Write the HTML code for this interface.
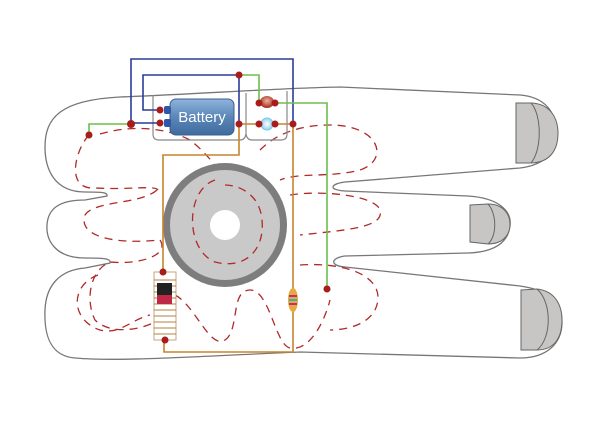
<!DOCTYPE html>
<html><head><style>body{margin:0;background:#fff}svg{display:block}</style></head><body>
<svg width="600" height="425" viewBox="0 0 600 425" xmlns="http://www.w3.org/2000/svg">
<defs>
<linearGradient id="bat" x1="0" y1="0" x2="0" y2="1"><stop offset="0" stop-color="#8fb4dc"/><stop offset="0.5" stop-color="#5a86b8"/><stop offset="1" stop-color="#3f6b9e"/></linearGradient>
<radialGradient id="red" cx="0.5" cy="0.4" r="0.6"><stop offset="0" stop-color="#f0b0a0"/><stop offset="1" stop-color="#a02818"/></radialGradient>
<radialGradient id="blu" cx="0.5" cy="0.5" r="0.6"><stop offset="0" stop-color="#ffffff"/><stop offset="1" stop-color="#7cc6ea"/></radialGradient>
</defs>
<!-- hand outline -->
<path d="M120,97 C200,94 280,88 340,87 L520,95 C545,97 556,112 556,132 C556,152 545,165 520,168 L345,182 C330,184 328,190 345,191 L468,196 C500,198 512,212 510,226 C508,242 495,252 468,253 L345,256 C330,258 330,266 345,267 L520,286 C550,290 562,305 562,322 C562,345 545,358 520,358 L300,352 C200,356 120,362 75,358 C50,356 44,335 45,310 C46,285 60,270 85,268 L110,263 C112,258 100,258 85,258 C55,258 46,240 47,225 C48,208 60,200 85,200 L107,196 C108,192 100,192 85,192 C55,192 45,170 45,147 C45,118 60,100 120,97 Z" fill="none" stroke="#777" stroke-width="1.3"/>
<!-- nails -->
<path d="M516,103 L530,103 C550,103 558,118 558,133 C558,150 550,163 530,163 L516,163 Z" fill="#c8c5c5" stroke="#666"/>
<path d="M531,103 C542,115 542,150 531,163" fill="none" stroke="#666"/>
<path d="M470,205 L488,204 C503,204 510,214 510,224 C510,236 502,244 488,244 L470,242 Z" fill="#c8c5c5" stroke="#666"/>
<path d="M488,204 C497,214 497,236 488,244" fill="none" stroke="#666"/>
<path d="M521,290 L537,289 C555,291 562,305 562,320 C562,338 554,350 537,350 L521,350 Z" fill="#c8c5c5" stroke="#666"/>
<path d="M537,289 C552,302 552,338 537,350" fill="none" stroke="#666"/>
<!-- dashed loops -->
<g fill="none" stroke="#b02a2a" stroke-width="1.3" stroke-dasharray="8,6">
<path d="M89,135 C75,150 65,190 95,188 C130,190 155,185 158,190"/>
<path d="M100,134 C130,125 165,127 190,140 C215,160 220,175 225,180"/>
<path d="M260,150 C270,140 290,125 330,125 C380,125 390,160 360,170 C330,178 300,172 280,180"/>
<path d="M157,190 C140,205 95,200 85,215 C78,235 110,245 160,240"/>
<path d="M160,240 C170,255 140,265 110,262 C90,270 85,300 95,320 C110,335 140,330 155,322"/>
<path d="M175,295 C195,305 210,350 225,340 C240,330 230,290 250,290 C270,290 275,345 290,348 C310,352 325,320 330,300"/>
<path d="M290,195 C320,190 375,195 380,210 C385,228 345,230 300,235"/>
<path d="M300,265 C345,262 380,275 378,300 C375,325 345,330 330,330"/>
<path d="M258,255 C250,270 230,275 210,265 M200,200 C190,215 195,240 210,250"/>
<path d="M230,185 C250,190 262,205 260,225 C258,245 245,255 225,258"/>
<path d="M98,275 C70,285 70,320 100,330 C120,335 130,320 150,315"/>
</g>
<!-- speaker -->
<circle cx="225" cy="225" r="62" fill="#7d7d7d"/>
<circle cx="225" cy="225" r="55" fill="#c9c9c9"/>
<circle cx="225" cy="225" r="15" fill="#fff"/>
<g fill="none" stroke="#b02a2a" stroke-width="1.3" stroke-dasharray="8,6">
<path d="M215,180 C185,190 185,250 215,262 C245,270 265,250 262,220 C260,195 240,185 225,185"/>
</g>
<!-- battery box -->
<path d="M153,95 L153,134 Q153,140 159,140 L240,140 Q245,140 246,134 Q247,140 252,140 L281,140 Q287,140 287,134 L287,91" fill="none" stroke="#888" stroke-width="1.2"/>
<line x1="246" y1="93" x2="246" y2="134" stroke="#888" stroke-width="1.2"/>
<!-- wires -->
<g fill="none" stroke-width="1.6">
<path d="M131,123 L131,59 L293,59 L293,124" stroke="#2a3c9c"/>
<path d="M131,123 L160,123" stroke="#2a3c9c"/>
<path d="M160,110 L143,110 L143,75 L239,75 L239,124" stroke="#2a3c9c"/>
<path d="M89,135 L89,124 L131,124" stroke="#6cbf4c"/>
<path d="M239,75 L259,75 L259,101" stroke="#6cbf4c"/>
<path d="M275,103 L327,103 L327,289" stroke="#6cbf4c"/>
<path d="M239,124 L239,155 L163,155 L163,272" stroke="#c8842c"/>
<path d="M239,124 L293,124 L293,352 L164,352 L164,340" stroke="#c8842c"/>
</g>
<!-- battery -->
<rect x="170" y="99" width="64" height="36" rx="6" fill="url(#bat)" stroke="#3b5f8c"/>
<rect x="164" y="106" width="7" height="8" rx="2" fill="#2f56a8"/>
<rect x="164" y="119" width="7" height="8" rx="2" fill="#2f56a8"/>
<text x="202" y="122" font-family="Liberation Sans, sans-serif" font-size="15" fill="#fff" text-anchor="middle">Battery</text>
<!-- LEDs -->
<ellipse cx="267" cy="102" rx="7" ry="6" fill="url(#red)"/>
<ellipse cx="267" cy="124" rx="6" ry="6" fill="url(#blu)" stroke="#7cc6ea"/>
<!-- coil -->
<rect x="154" y="272" width="22" height="68" fill="#fff" stroke="#b89060" stroke-width="0.8"/>
<g stroke="#b08040" stroke-width="0.9" fill="none">
<path d="M154,280 H176 M154,286 H176 M154,292 H176 M154,298 H176 M154,304 H176 M154,310 H176 M154,316 H176 M154,322 H176 M154,328 H176 M154,334 H176"/>
</g>
<rect x="157" y="283" width="15" height="12" fill="#222"/>
<rect x="157" y="295" width="15" height="9" fill="#c02848"/>
<!-- resistor -->
<ellipse cx="293" cy="300" rx="5" ry="12" fill="#e8a840"/>
<rect x="289" y="295" width="8" height="2" fill="#c03070"/><rect x="289" y="299" width="8" height="2" fill="#3fb0b0"/><rect x="289" y="303" width="8" height="2" fill="#c03070"/>
<!-- dots -->
<g fill="#a81c1c">
<circle cx="89" cy="135" r="3.5"/><circle cx="131" cy="124" r="4"/><circle cx="160" cy="110" r="3.5"/><circle cx="160" cy="123" r="3.5"/>
<circle cx="239" cy="75" r="3.5"/><circle cx="239" cy="124" r="3.5"/><circle cx="293" cy="124" r="3.5"/>
<circle cx="259" cy="103" r="3.5"/><circle cx="275" cy="103" r="3.5"/><circle cx="259" cy="124" r="3.5"/><circle cx="275" cy="124" r="3.5"/>
<circle cx="163" cy="272" r="3.5"/><circle cx="165" cy="340" r="3.5"/><circle cx="327" cy="289" r="3.5"/>
</g>
</svg>
</body></html>
